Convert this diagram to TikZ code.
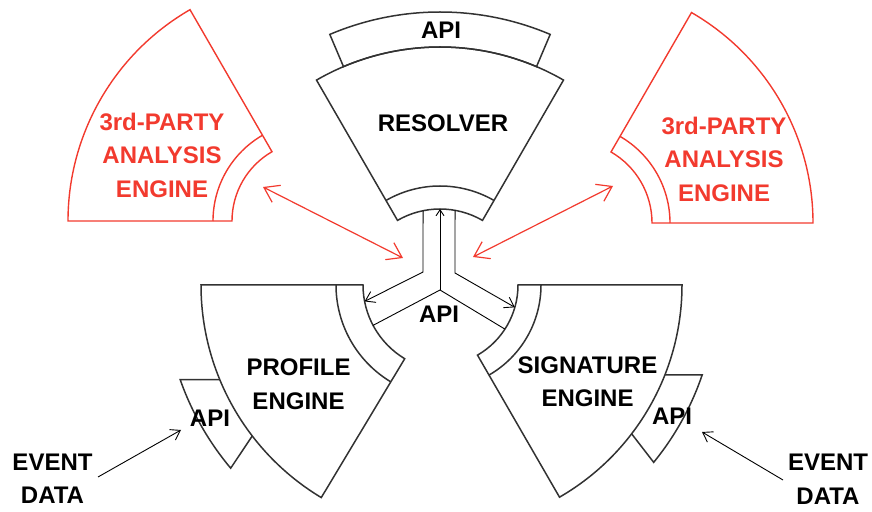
\documentclass[tikz,border=0pt]{standalone}
\usepackage{fontspec}
\setmainfont{Liberation Sans}
\usetikzlibrary{arrows.meta,calc}

\definecolor{partyred}{RGB}{242,58,46}
\definecolor{ink}{RGB}{50,50,50}

% annular sector: centre, start angle, end angle, inner radius, outer radius, style
\newcommand\ringsector[6]{%
  \draw[#6] ([shift={(#2:#4)}]#1) -- ([shift={(#2:#5)}]#1)
    arc[start angle=#2,end angle=#3,radius=#5]
    -- ([shift={(#3:#4)}]#1)
    arc[start angle=#3,end angle=#2,radius=#4] -- cycle;}
% plain arc of a circle round a centre
\newcommand\ringarc[5]{%
  \draw[#5] ([shift={(#2:#4)}]#1) arc[start angle=#2,end angle=#3,radius=#4];}

\tikzset{
  sector/.style={draw=ink,line width=1.5pt,line join=miter},
  redsector/.style={draw=partyred,line width=1.4pt,line join=miter},
  lbl/.style={font=\fontsize{24}{33.5}\selectfont\bfseries,align=center,
              text=black,inner sep=0pt},
  redlbl/.style={lbl,text=partyred},
  flow/.style={draw=black,line width=0.9pt},
  flowtip/.style={flow,-{Straight Barb[length=9pt,width=12pt]}},
  smalltip/.style={flow,-{Straight Barb[length=6pt,width=8pt]}},
  link/.style={draw=partyred,line width=1.2pt,
    {Straight Barb[length=14pt,width=19pt]}-{Straight Barb[length=14pt,width=19pt]}},
}

\begin{document}
\begin{tikzpicture}[x=1pt,y=1pt]
\useasboundingbox (0,0) rectangle (872,511);

% centres of the sectors
\coordinate (CR) at (440,217);  % resolver
\coordinate (CP) at (449,226);  % profile engine
\coordinate (CS) at (437,226);  % signature engine
\coordinate (CL) at (312,290);  % left third-party engine
\coordinate (CQ) at (570,288);  % right third-party engine

% ---- resolver with its API bands
\ringsector{CR}{60}{120}{85}{247}{sector}
\ringarc{CR}{60}{120}{108}{sector}
\ringsector{CR}{67}{113}{247}{282}{sector}
\node[lbl] (resolver) at (443,388) {RESOLVER};
\node[lbl] (resapi) at (441,481) {API};

% ---- profile engine
\ringsector{CP}{180}{239}{86}{248}{sector}
\ringarc{CP}{180}{239}{113}{sector}
\coordinate (pa1) at ([shift={(199.4:285)}]CP);
\coordinate (pa2) at ([shift={(220:285)}]CP);
\coordinate (pa0) at (219.8,131.3);
\coordinate (pa3) at ([shift={(217.5:248)}]CP);
\draw[sector] (pa0) -- (pa1) arc[start angle=199.4,end angle=220,radius=285] -- (pa3);
\node[lbl] (profile) at (298.5,127) {PROFILE\\ENGINE};
\node[lbl] (profapi) at (210,93) {API};

% ---- signature engine
\ringsector{CS}{-60}{0}{81}{245}{sector}
\ringarc{CS}{-60}{0}{104}{sector}
\coordinate (sa1) at ([shift={(-18.7:280)}]CS);
\coordinate (sa2) at ([shift={(-39.3:280)}]CS);
\coordinate (sa0) at (664.9,136.2);
\coordinate (sa3) at ([shift={(-37.4:245)}]CS);
\draw[sector] (sa0) -- (sa1) arc[start angle=-18.7,end angle=-39.3,radius=280] -- (sa3);
\node[lbl] (signature) at (587.5,129.5) {SIGNATURE\\ENGINE};
\node[lbl] (sigapi) at (672,95) {API};

% ---- third-party analysis engines
\ringsector{CL}{120}{180}{80}{244}{redsector}
\ringarc{CL}{120}{180}{99}{redsector}
\node[redlbl] (partyL) at (162,356) {3rd-PARTY\\ANALYSIS\\ENGINE};
\ringsector{CQ}{0}{60}{82}{243}{redsector}
\ringarc{CQ}{0}{60}{100}{redsector}
\node[redlbl] (partyR) at (724,352) {3rd-PARTY\\ANALYSIS\\ENGINE};

% ---- central API junction
\coordinate (rl) at ([shift={(101.5:85)}]CR);
\coordinate (rr) at ([shift={(79.8:85)}]CR);
\coordinate (rc) at ([shift={(90:85)}]CR);
\coordinate (jl) at (423,239);
\coordinate (jr) at (455,238);
\coordinate (jc) at (440,221);
\coordinate (pt) at ([shift={(191:86)}]CP);
\coordinate (pb) at ([shift={(208:86)}]CP);
\coordinate (st) at ([shift={(-16:81)}]CS);
\coordinate (sb) at ([shift={(-33:81)}]CS);
\draw[flowtip] (rl) -- (jl) -- (pt);
\draw[flowtip] (rr) -- (jr) -- (st);
\draw[smalltip] (jc) -- (rc);
\draw[flow] (pb) -- (jc) -- (sb);
\node[lbl] (hubapi) at (439,197) {API};

% ---- links to the third-party engines
\coordinate (lL) at (263,324);
\coordinate (lC) at (403,253);
\coordinate (rL) at (613,325);
\coordinate (rC) at (473,254);
\draw[link] (lL) -- (lC);
\draw[link] (rL) -- (rC);

% ---- event data inputs
\node[lbl] (evL) at (52.5,32.5) {EVENT\\DATA};
\node[lbl] (evR) at (828,32) {EVENT\\DATA};
\coordinate (eL0) at (98,34);
\coordinate (eL1) at (181,81);
\coordinate (eR0) at (783,31);
\coordinate (eR1) at (702,79);
\draw[flowtip] (eL0) -- (eL1);
\draw[flowtip] (eR0) -- (eR1);
\end{tikzpicture}
\end{document}
